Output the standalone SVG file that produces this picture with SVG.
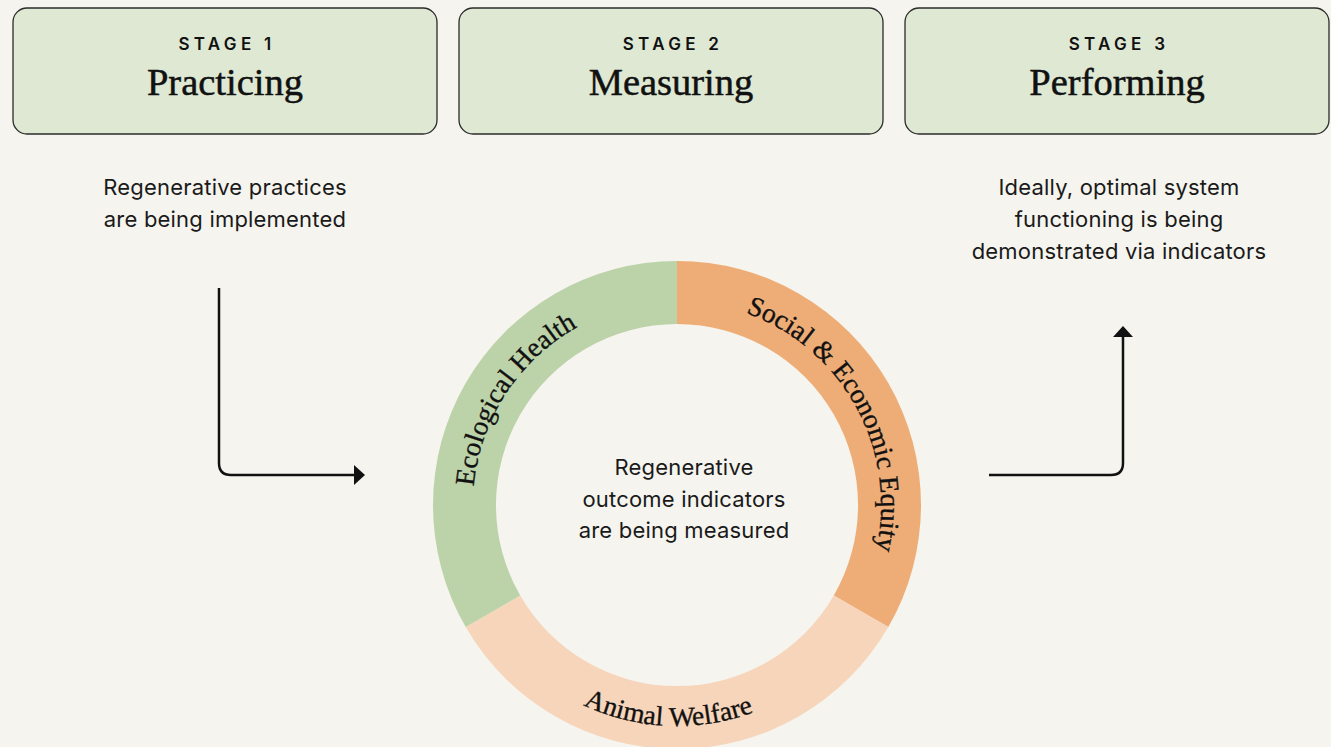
<svg xmlns="http://www.w3.org/2000/svg" width="1331" height="747" viewBox="0 0 1331 747">
  <style>
    .box { fill: #DEE8D3; stroke: #2b2b2b; stroke-width: 1.3; }
    .stage { font-family: Inter, "Liberation Sans", sans-serif; font-size: 17px; font-weight: 600; letter-spacing: 4.3px; fill: #111; text-anchor: middle; }
    .title { font-family: "Liberation Serif", "DejaVu Serif", serif; font-size: 38.5px; fill: #111; stroke: #111; stroke-width: 0.5; text-anchor: middle; }
    .body { font-family: Inter, "Liberation Sans", sans-serif; font-size: 22px; letter-spacing: 0.2px; fill: #1a1a1a; text-anchor: middle; }
    .ring-label { font-family: "Liberation Serif", "DejaVu Serif", serif; font-size: 27.5px; fill: #111; stroke: #111; stroke-width: 0.35; text-anchor: middle; }
    .conn { fill: none; stroke: #111; stroke-width: 2.5; }
  </style>
  <defs>
    <marker id="head" viewBox="0 0 11 20" refX="1" refY="10" markerWidth="11" markerHeight="20" markerUnits="userSpaceOnUse" orient="auto">
      <path d="M0,0 L11,10 L0,20 Z" fill="#111"/>
    </marker>
    <!-- baselines for the ring labels -->
    <path id="arc-eco" d="M500.3,607 A204,204 0 0 1 677,301"/>
    <path id="arc-soc" d="M677,301 A204,204 0 0 1 853.7,607"/>
    <path id="arc-ani" d="M485.6,615.5 A221,221 0 0 0 868.4,615.5"/>
  </defs>

  <rect width="1331" height="747" fill="#F5F4EE"/>

  <g id="stage-1">
    <rect class="box" x="13" y="8" width="424" height="126" rx="14"/>
    <text class="stage" x="227" y="50">STAGE 1</text>
    <text class="title" x="225" y="95">Practicing</text>
  </g>
  <g id="stage-2">
    <rect class="box" x="459" y="8" width="424" height="126" rx="14"/>
    <text class="stage" x="673" y="50">STAGE 2</text>
    <text class="title" x="671" y="95">Measuring</text>
  </g>
  <g id="stage-3">
    <rect class="box" x="905" y="8" width="424" height="126" rx="14"/>
    <text class="stage" x="1119" y="50">STAGE 3</text>
    <text class="title" x="1117" y="95">Performing</text>
  </g>

  <g id="practicing-note">
    <text class="body" x="225" y="195">Regenerative practices</text>
    <text class="body" x="225" y="227">are being implemented</text>
  </g>

  <g id="performing-note">
    <text class="body" x="1119" y="195">Ideally, optimal system</text>
    <text class="body" x="1119" y="227">functioning is being</text>
    <text class="body" x="1119" y="259">demonstrated via indicators</text>
  </g>

  <g id="outcome-ring">
    <path id="seg-social" d="M677,261 A244,244 0 0 1 888.3,627 L833.8,595.5 A181,181 0 0 0 677,324 Z" fill="#EEAD77"/>
    <path id="seg-animal" d="M888.3,627 A244,244 0 0 1 465.7,627 L520.2,595.5 A181,181 0 0 0 833.8,595.5 Z" fill="#F7D5BB"/>
    <path id="seg-eco" d="M465.7,627 A244,244 0 0 1 677,261 L677,324 A181,181 0 0 0 520.2,595.5 Z" fill="#BCD3A9"/>
    <text class="ring-label"><textPath href="#arc-eco" startOffset="52.5%">Ecological Health</textPath></text>
    <text class="ring-label"><textPath href="#arc-soc" startOffset="51%">Social &amp; Economic Equity</textPath></text>
    <text class="ring-label"><textPath href="#arc-ani" startOffset="48%">Animal Welfare</textPath></text>
    <text class="body" x="684" y="475">Regenerative</text>
    <text class="body" x="684" y="507">outcome indicators</text>
    <text class="body" x="684" y="538">are being measured</text>
  </g>

  <g id="connectors">
    <path class="conn" d="M219,288 V463 Q219,475 231,475 H355" marker-end="url(#head)"/>
    <path class="conn" d="M989,475 H1111 Q1123,475 1123,463 V336" marker-end="url(#head)"/>
  </g>
</svg>
